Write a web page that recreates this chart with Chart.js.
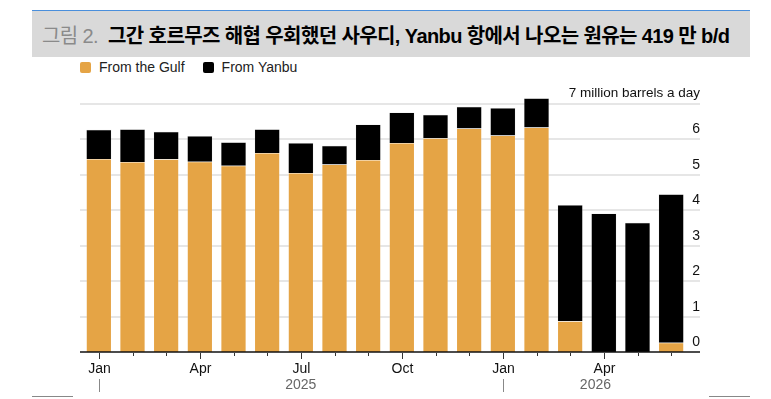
<!DOCTYPE html>
<html>
<head>
<meta charset="utf-8">
<script src="https://cdn.jsdelivr.net/npm/chart.js@4"></script>
<style>
  html, body { margin:0; padding:0; background:#fff; }
  #wrap { position:relative; width:771px; height:399px; overflow:hidden; background:#fff; }
  #title { position:absolute; left:32px; top:10px; width:718px; height:47px; background:#d9d9d9;
           border-top:1.5px solid #4a8fdc; box-sizing:border-box; display:flex; align-items:center;
           padding-left:10px; font-family:"Liberation Sans","Noto Sans CJK KR",sans-serif; font-size:20px;
           letter-spacing:-0.6px; white-space:nowrap; }
  #title .fig { color:#8a8a8a; font-weight:normal; margin-right:10px; }
  #title .main { color:#000; font-weight:bold; }
  #legend { position:absolute; left:80px; top:59px; font-family:"Liberation Sans",sans-serif; font-size:14px; color:#222; display:flex; align-items:center; }
  #legend .sw { display:inline-block; width:11px; height:11px; border-radius:2px; margin-right:8px; }
  #legend .item { display:flex; align-items:center; margin-right:18px; }
  canvas { position:absolute; left:0; top:0; }
  .bl { position:absolute; top:396px; height:1px; background:#888; }
</style>
</head>
<body>
<div id="wrap">
  <div id="title"><span class="fig">그림 2.</span><span class="main">그간 호르무즈 해협 우회했던 사우디, Yanbu 항에서 나오는 원유는 419 만 b/d</span></div>
  <div id="legend"></div>
  <canvas id="c" width="771" height="399"></canvas>
  <div class="bl" style="left:32px;width:41px"></div>
  <div class="bl" style="left:709px;width:41px"></div>
</div>
<script>
// ---- data (million barrels a day) ----
const months = ['Jan','Feb','Mar','Apr','May','Jun','Jul','Aug','Sep','Oct','Nov','Dec','Jan','Feb','Mar','Apr','May','Jun'];
const years  = [2025,2025,2025,2025,2025,2025,2025,2025,2025,2025,2025,2025,2026,2026,2026,2026,2026,2026];
const monthTickLabels = ['Jan','','','Apr','','','Jul','','','Oct','','','Jan','','','Apr','',''];
const fromGulf  = [5.45,5.36,5.44,5.37,5.26,5.62,5.05,5.29,5.42,5.90,6.03,6.31,6.11,6.34,0.87,0,0,0.26];
const fromYanbu = [0.82,0.93,0.78,0.73,0.66,0.67,0.85,0.53,1.00,0.86,0.67,0.61,0.78,0.82,3.28,3.91,3.65,4.19];
const yTicks = [0,1,2,3,4,5,6];
const yTopValue = 7;
const unitLabel = '7 million barrels a day';
const seriesNames = ['From the Gulf','From Yanbu'];
const colors = ['#e5a445','#000000'];

// legend
const lg = document.getElementById('legend');
seriesNames.forEach((n,i)=>{
  const d = document.createElement('span'); d.className='item';
  d.innerHTML = '<span class="sw" style="background:'+colors[i]+'"></span>'+n;
  lg.appendChild(d);
});

const FONT = '"Liberation Sans", Arial, sans-serif';
const decor = {
  id:'decor',
  beforeDatasetsDraw(chart){
    const {ctx, scales:{y}} = chart;
    ctx.save();
    ctx.strokeStyle = '#dedede'; ctx.lineWidth = 1.5;
    for (let v=1; v<=yTopValue; v++){
      const py = Math.round(y.getPixelForValue(v));
      ctx.beginPath(); ctx.moveTo(80, py); ctx.lineTo(700, py); ctx.stroke();
    }
    ctx.restore();
  },
  afterDatasetsDraw(chart){
    const {ctx, scales:{x,y}} = chart;
    ctx.save();
    // y labels
    ctx.fillStyle = '#111'; ctx.font = '14px '+FONT; ctx.textAlign='right'; ctx.textBaseline='alphabetic';
    yTicks.forEach(v=>{ ctx.fillText(String(v), 700, y.getPixelForValue(v)-6); });
    ctx.font = '13.5px '+FONT;
    ctx.fillText(unitLabel, 700, y.getPixelForValue(yTopValue)-7);
    // zero axis line
    const y0 = Math.round(y.getPixelForValue(0));
    ctx.strokeStyle = '#111'; ctx.lineWidth = 1.5;
    ctx.beginPath(); ctx.moveTo(80, y0); ctx.lineTo(700, y0); ctx.stroke();
    // ticks + month labels
    ctx.lineWidth = 1; ctx.strokeStyle = '#333';
    ctx.textAlign = 'center'; ctx.font = '14px '+FONT; ctx.fillStyle='#111';
    months.forEach((m,i)=>{
      const px = Math.round(x.getPixelForValue(i))+0.5;
      const major = monthTickLabels[i] !== '';
      ctx.beginPath(); ctx.moveTo(px, y0+1); ctx.lineTo(px, y0 + (major?7:4)); ctx.stroke();
      if (major) ctx.fillText(monthTickLabels[i], px, y0+21);
    });
    // year separators and labels
    ctx.strokeStyle = '#888'; ctx.fillStyle = '#666';
    const firstIdx = {};
    years.forEach((yr,i)=>{ if(!(yr in firstIdx)) firstIdx[yr]=i; });
    const yrs = Object.keys(firstIdx).map(Number);
    yrs.forEach((yr,k)=>{
      const i0 = firstIdx[yr];
      const px = Math.round(x.getPixelForValue(i0))+0.5;
      ctx.beginPath(); ctx.moveTo(px, y0+27); ctx.lineTo(px, y0+40); ctx.stroke();
      const xEnd = k+1<yrs.length ? x.getPixelForValue(firstIdx[yrs[k+1]]) : chart.chartArea.right;
      ctx.fillText(String(yr), (x.getPixelForValue(i0)+xEnd)/2, y0+37);
    });
    ctx.restore();
  }
};

new Chart(document.getElementById('c'), {
  type:'bar',
  data:{
    labels: months.map((m,i)=>m+' '+years[i]),
    datasets:[
      {label:seriesNames[0], data:fromGulf, backgroundColor:colors[0], borderColor:'rgba(255,255,255,0.35)', borderWidth:0.5, clip:false},
      {label:seriesNames[1], data:fromYanbu, backgroundColor:colors[1], borderColor:'rgba(200,200,200,0.6)', borderWidth:0.5, clip:false}
    ]
  },
  options:{
    responsive:false, devicePixelRatio:1, animation:false,
    layout:{padding:{left:82, right:83, top:104, bottom:47}},
    datasets:{bar:{categoryPercentage:1, barPercentage:0.75}},
    plugins:{legend:{display:false}, tooltip:{enabled:false}, title:{display:false}},
    scales:{
      x:{display:false, stacked:true},
      y:{display:false, stacked:true, min:0, max:yTopValue}
    }
  },
  plugins:[decor]
});
</script>
</body>
</html>
